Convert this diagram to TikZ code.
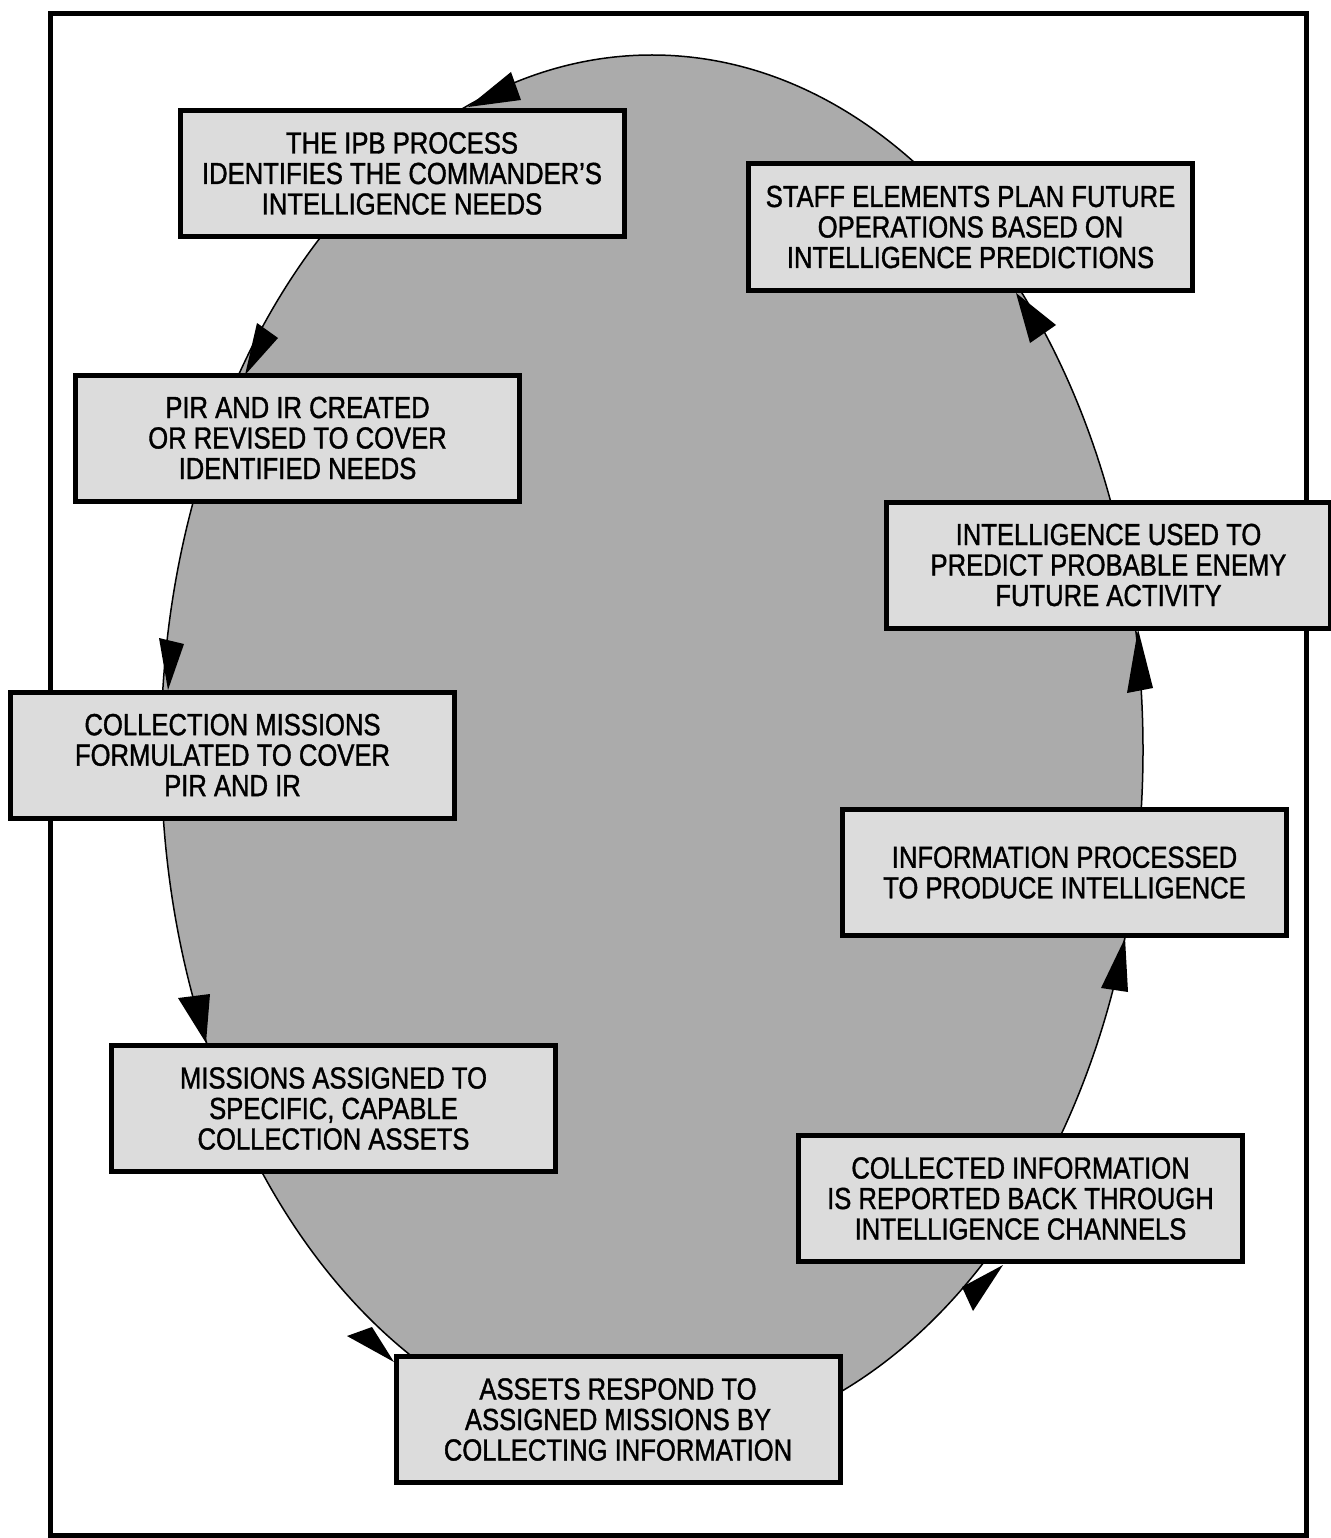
\documentclass[tikz,border=0pt]{standalone}
\usepackage{fontspec}
\setmainfont{Liberation Sans}[FakeStretch=0.84,FakeBold=1.2]
\definecolor{boxfill}{HTML}{DCDCDC}
\definecolor{ovalfill}{HTML}{ABABAB}
\begin{document}
\begin{tikzpicture}[x=1pt,y=-1pt,
  stepbox/.style={draw=black,line width=5pt,fill=boxfill,minimum width=444pt,minimum height=126pt,
    align=center,inner sep=0pt,font=\fontsize{30.5}{30.5}\selectfont},
  tip/.style={fill=black}]
\useasboundingbox (0,0) rectangle (1330,1538);
\fill[white] (0,0) rectangle (1330,1538);
% frame
\draw[line width=5pt] (50,14) rectangle (1306,1535);
% oval
\draw[fill=ovalfill,line width=1.5pt] (652,750) ellipse [x radius=491,y radius=695];
% boxes
\node[stepbox] (ipb)    at (402,173.5)  {THE IPB PROCESS\\IDENTIFIES THE COMMANDER'S\\INTELLIGENCE NEEDS};
\node[stepbox] (staff)  at (970.5,227)  {STAFF ELEMENTS PLAN FUTURE\\OPERATIONS BASED ON\\INTELLIGENCE PREDICTIONS};
\node[stepbox] (pir)    at (297.5,438)  {PIR AND IR CREATED\\OR REVISED TO COVER\\IDENTIFIED NEEDS};
\node[stepbox] (used)   at (1108.5,565) {INTELLIGENCE USED TO\\PREDICT PROBABLE ENEMY\\FUTURE ACTIVITY};
\node[stepbox] (coll)   at (232.5,755)  {COLLECTION MISSIONS\\FORMULATED TO COVER\\PIR AND IR};
\node[stepbox] (proc)   at (1064.5,872.5) {INFORMATION PROCESSED\\TO PRODUCE INTELLIGENCE};
\node[stepbox] (miss)   at (333.5,1108.5) {MISSIONS ASSIGNED TO\\SPECIFIC, CAPABLE\\COLLECTION ASSETS};
\node[stepbox] (rep)    at (1020.5,1198.5) {COLLECTED INFORMATION\\IS REPORTED BACK THROUGH\\INTELLIGENCE CHANNELS};
\node[stepbox] (assets) at (618,1419.5) {ASSETS RESPOND TO\\ASSIGNED MISSIONS BY\\COLLECTING INFORMATION};
% arrowheads on the oval
\fill[tip] (468,107) -- (511,72) -- (521,100) -- cycle;
\fill[tip] (245,375) -- (257,323) -- (278,338) -- cycle;
\fill[tip] (168,690) -- (159,638) -- (184,644) -- cycle;
\fill[tip] (206,1043) -- (178,998) -- (210,994) -- cycle;
\fill[tip] (394,1362) -- (347,1336) -- (372,1327) -- cycle;
\fill[tip] (1003,1265) -- (962,1287) -- (973,1311) -- cycle;
\fill[tip] (1125,938) -- (1101,988) -- (1128,992) -- cycle;
\fill[tip] (1138,629) -- (1127,693) -- (1153,688) -- cycle;
\fill[tip] (1016,293) -- (1056,325) -- (1030,343) -- cycle;
\end{tikzpicture}
\end{document}
